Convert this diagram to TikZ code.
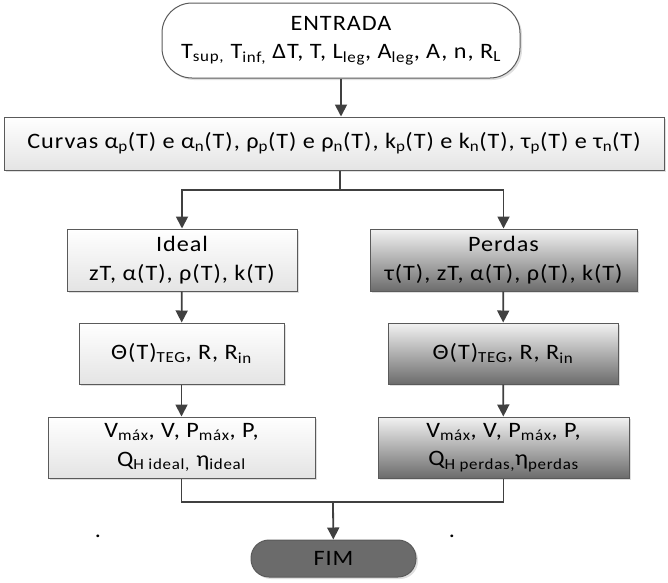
\documentclass[tikz,border=0pt]{standalone}
\usepackage{fontspec}
\setmainfont{Carlito}[FakeStretch=1.1,LetterSpace=4.5]
\usetikzlibrary{arrows.meta,positioning,shadows}
\definecolor{linegray}{HTML}{404040}
\definecolor{edgegray}{HTML}{5A5A5A}
\definecolor{fimgray}{HTML}{6B6B6B}
\definecolor{darkshade}{HTML}{6C6C6C}
\definecolor{lightshade}{HTML}{E4E4E4}
\newcommand{\sbs}[1]{\textsubscript{#1}}

\begin{document}
\begin{tikzpicture}[x=1pt,y=-1pt,
  font=\fontsize{22}{28.5}\selectfont,
  base/.style={rectangle,draw=edgegray,line width=1pt,align=center,inner sep=0pt,
               drop shadow={opacity=0.25,shadow xshift=2pt,shadow yshift=-2pt}},
  lite/.style={base,top color=white,bottom color=lightshade},
  dark/.style={base,top color=white!95!black,bottom color=darkshade},
  term/.style={base,rounded corners=#1},
  arr/.style={-{Triangle[length=12pt,width=12pt]},line width=1.8pt,draw=linegray}
]
  \useasboundingbox (0,0) rectangle (668,582);

  % entrada e curvas
  \node[term=30pt,fill=white,minimum width=358pt,minimum height=75pt] (entrada) at (341,40.5)
    {ENTRADA\\T\sbs{sup,} T\sbs{inf,} ΔT, T, L\sbs{leg}, A\sbs{leg}, A, n, R\sbs{L}};
  \node[lite,minimum width=660pt,minimum height=53pt] (curvas) at (334,143.5)
    {Curvas α\sbs{p}(T) e α\sbs{n}(T), ρ\sbs{p}(T) e ρ\sbs{n}(T), k\sbs{p}(T) e k\sbs{n}(T), τ\sbs{p}(T) e τ\sbs{n}(T)};

  % ramo ideal
  \node[lite,minimum width=230pt,minimum height=62pt] (ideal) at (182,260)
    {Ideal\\zT, α(T), ρ(T), k(T)};
  \node[lite,minimum width=205pt,minimum height=61pt] (thetai) at (181.5,353.5)
    {Θ(T)\sbs{TEG}, R, R\sbs{in}};
  \node[lite,minimum width=267pt,minimum height=61pt] (vi) at (181.5,447.5)
    {V\sbs{máx}, V, P\sbs{máx}, P,\\Q\sbs{H ideal,} η\sbs{ideal}};

  % ramo perdas
  \node[dark,minimum width=267pt,minimum height=62pt] (perdas) at (503.5,260)
    {Perdas\\τ(T), zT, α(T), ρ(T), k(T)};
  \node[dark,minimum width=230pt,minimum height=61pt] (thetap) at (503,353.5)
    {Θ(T)\sbs{TEG}, R, R\sbs{in}};
  \node[dark,minimum width=251pt,minimum height=61pt] (vp) at (503.5,447.5)
    {V\sbs{máx}, V, P\sbs{máx}, P,\\Q\sbs{H perdas,}η\sbs{perdas}};

  % fim
  \node[term=18pt,fill=fimgray,minimum width=165pt,minimum height=37pt] (fim) at (333.5,558.5) {FIM};
  \node (dotl) at (98,536) {.};
  \node (dotr) at (452,536) {.};

  \coordinate (split) at (340,190);
  \coordinate (merge) at (333,502);

  \draw[arr] (entrada) -- (entrada |- curvas.north);
  \draw[line width=1.8pt,draw=linegray] (curvas.south -| split) -- (split);
  \draw[arr] (split) -| (ideal);
  \draw[arr] (split) -| (perdas);
  \draw[arr] (ideal) -- (thetai);
  \draw[arr] (thetai) -- (vi);
  \draw[arr] (perdas) -- (thetap);
  \draw[arr] (thetap) -- (vp);
  \draw[line width=1.8pt,draw=linegray] (vi) |- (merge) -| (vp);
  \draw[arr] (merge) -- (fim);
\end{tikzpicture}
\end{document}
